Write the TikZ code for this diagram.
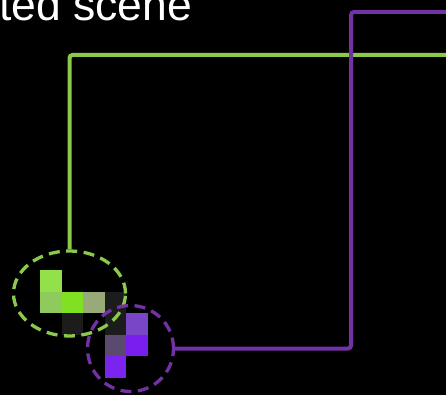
\documentclass[tikz,border=0pt]{standalone}
\usepackage{fontspec}
\setmainfont{Liberation Sans}
\usetikzlibrary{shapes.geometric}

\definecolor{limeline}{HTML}{8CC84B}
\definecolor{violetline}{HTML}{7232A6}
\definecolor{pxA}{HTML}{92E04A}
\definecolor{pxB}{HTML}{8FCB5C}
\definecolor{pxC}{HTML}{80E022}
\definecolor{pxD}{HTML}{98AA7A}
\definecolor{pxDark}{HTML}{1C1C1C}
\definecolor{pxE}{HTML}{7A46C8}
\definecolor{pxF}{HTML}{5A4A6E}
\definecolor{pxG}{HTML}{7A1EF0}
\definecolor{pxH}{HTML}{7A24EE}

\tikzset{
  pixel/.style={rectangle, minimum size=21.6pt, inner sep=0pt, outer sep=0pt, draw=none},
  ring/.style={line width=3.3pt, dash pattern=on 11pt off 6.5pt, inner sep=0pt, fill=none},
  link/.style={line width=4pt, rounded corners=3pt},
  caption/.style={text=white, font=\fontsize{44.5}{44.5}\selectfont, inner sep=0pt, anchor=base west}
}

\begin{document}
\begin{tikzpicture}[x=1pt, y=-1pt]
  \useasboundingbox (0,0) rectangle (446,395);
  \clip (0,0) rectangle (446,395);
  \fill[black] (0,0) rectangle (446,395);

  % title, running off the top edge
  \node[caption] (title) at (-1,20.5) {ted scene};

  % pixel sprite
  \node[pixel, fill=pxA]    (p11) at (51,281) {};
  \node[pixel, fill=pxB]    (p21) at (51,302.5) {};
  \node[pixel, fill=pxC]    (p22) at (72.5,302.5) {};
  \node[pixel, fill=pxD]    (p23) at (94,302.5) {};
  \node[pixel, fill=pxDark] (p24) at (115.5,302.5) {};
  \node[pixel, fill=pxDark] (p32) at (72.5,324) {};
  \node[pixel, fill=pxDark] (p34) at (115.5,324) {};
  \node[pixel, fill=pxE]    (p35) at (137,324) {};
  \node[pixel, fill=pxF]    (p44) at (115.5,345.5) {};
  \node[pixel, fill=pxG]    (p45) at (137,345.5) {};
  \node[pixel, fill=pxH]    (p54) at (115.5,367) {};

  % dashed highlight rings
  \node[ring, draw=limeline, ellipse, minimum width=112pt, minimum height=85pt] (limering) at (69.5,293.5) {};
  \node[ring, draw=violetline, circle, minimum size=86pt] (violetring) at (130.5,348.5) {};

  % leader lines to the right edge
  \coordinate (limeend) at (452,55);
  \coordinate (violetturn) at (351,12);
  \coordinate (violetend) at (452,12);

  \draw[link, draw=limeline] (limering.north) |- (limeend);
  \draw[link, draw=violetline] (violetring.east) -| (violetturn) -- (violetend);
\end{tikzpicture}
\end{document}
